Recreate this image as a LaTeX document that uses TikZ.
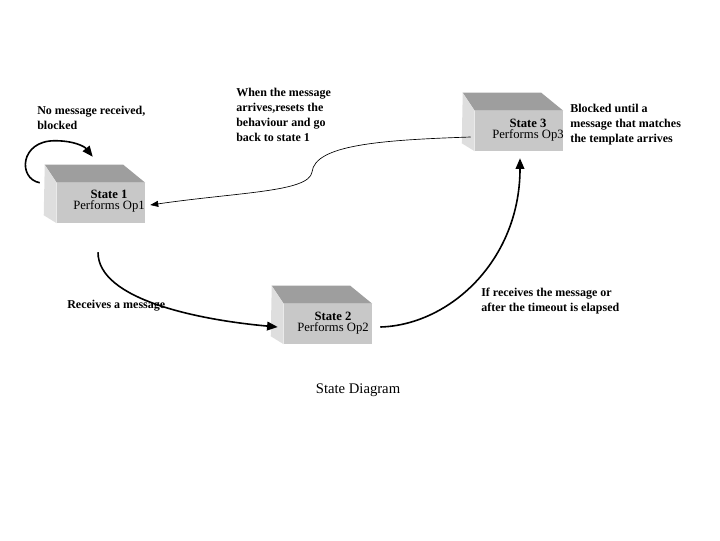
\documentclass[tikz,border=0pt]{standalone}
\usepackage{fontspec}
\setmainfont{Liberation Serif}
\usetikzlibrary{arrows.meta}

\definecolor{boxfront}{RGB}{200,200,200}
\definecolor{boxtop}{RGB}{158,158,158}
\definecolor{boxside}{RGB}{222,222,222}

\tikzset{
  stateface/.style={fill=boxfront, minimum width=66pt, minimum height=30pt, inner sep=0pt},
  statetext/.style={align=center, inner sep=0pt, font=\fontsize{9.5}{8.2}\selectfont},
  note/.style={align=left, anchor=north west, inner sep=0pt, font=\fontsize{9}{11.25}\selectfont\bfseries},
  trans/.style={line width=1.2pt, -{Triangle[length=8pt,width=6.5pt]}},
  backtrans/.style={line width=0.5pt, -{Triangle[length=6pt,width=4.5pt]}},
}

% top and left face of a state box
\newcommand{\statefaces}[1]{
  \fill[boxtop] ([shift={(-12,-18)}]#1.north west) -- ([shift={(-22,-18)}]#1.north east)
    -- (#1.north east) -- (#1.north west) -- cycle;
  \fill[boxside] ([shift={(-12,-18)}]#1.north west) -- (#1.north west)
    -- (#1.south west) -- ([shift={(-13,-8)}]#1.south west) -- cycle;
}

\begin{document}
\begin{tikzpicture}[x=0.75pt, y=-0.75pt]
  \useasboundingbox (0,0) rectangle (720,540);

  \node[stateface] (state1) at (101,203) {};
  \node[stateface] (state2) at (328,324) {};
  \node[stateface] (state3) at (519,131) {};
  \statefaces{state1}
  \statefaces{state2}
  \statefaces{state3}

  \node[statetext] (text1) at ([shift={(8,-2)}]state1.center) {\textbf{State 1}\\Performs Op1};
  \node[statetext] (text2) at ([shift={(5,-1)}]state2.center) {\textbf{State 2}\\Performs Op2};
  \node[statetext] (text3) at ([shift={(9,-1)}]state3.center) {\textbf{State 3}\\Performs Op3};

  \node[note] (noteloop) at (37,106) {No message received,\\blocked};
  \node[note] (noteback) at (236,88) {When the message\\arrives,resets the\\behaviour and go\\back to state 1};
  \node[note] (notewait) at (570,104) {Blocked until a\\message that matches\\the template arrives};
  \node[note] (notereceive) at (67,300) {Receives a message};
  \node[note] (notetimeout) at (481,288) {If receives the message or\\after the timeout is elapsed};
  \node[font=\fontsize{11}{13}\selectfont] (caption) at (358,390) {State Diagram};

  \draw[trans] ([shift={(-17,0)}]state1.north west)
    .. controls +(-22,-4) and +(-35,0) .. ([shift={(-2,-42)}]state1.north west)
    .. controls +(20,0) and +(-8,-10) .. ([shift={(36,-26)}]state1.north west);
  \draw[trans] ([shift={(-3,29)}]state1.south)
    .. controls (98,300) and (200,320) .. ([shift={(-6,3)}]state2.west);
  \draw[trans] ([shift={(8,3)}]state2.east)
    .. controls (450,325) and (520,260) .. ([shift={(1,7)}]state3.south);
  \draw[backtrans] ([shift={(-4,6)}]state3.west)
    .. controls (380,140) and (315,145) .. (312,172)
    .. controls (309,192) and (240,192) .. ([shift={(5,2)}]state1.east);
\end{tikzpicture}
\end{document}
